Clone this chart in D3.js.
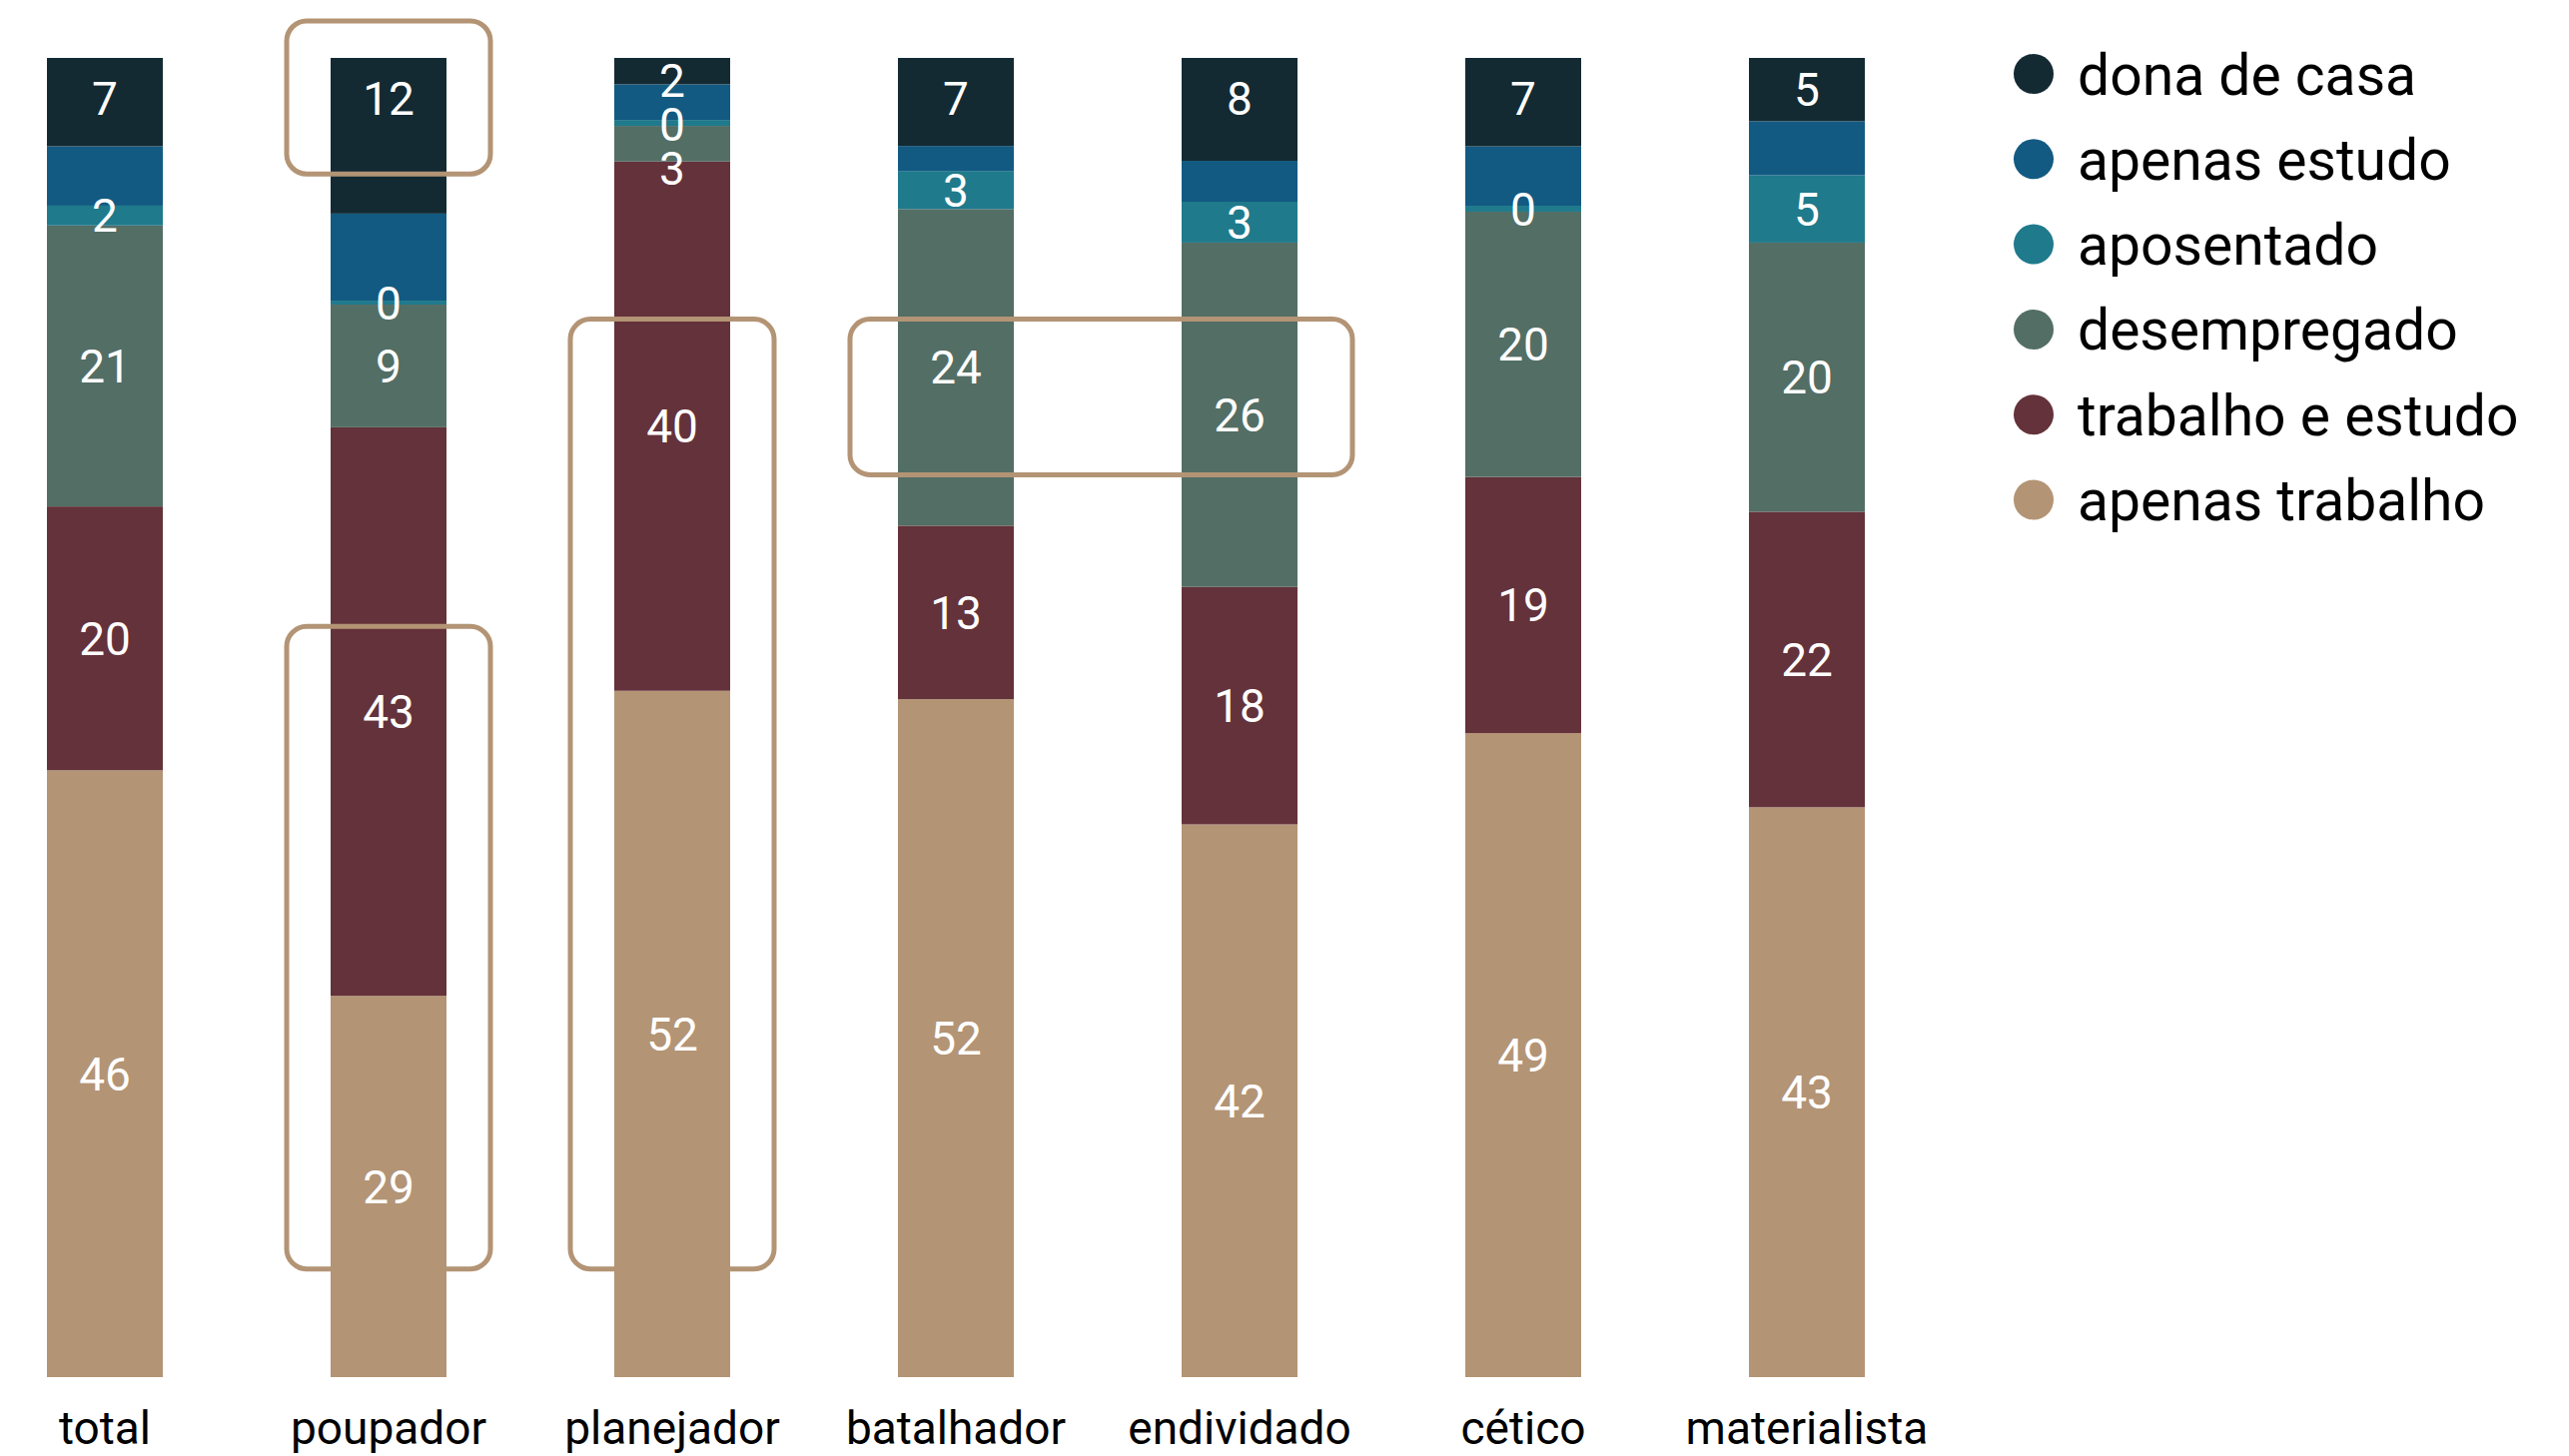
<!DOCTYPE html>
<html lang="pt">
<head>
<meta charset="utf-8">
<script src="https://cdn.jsdelivr.net/npm/d3@7/dist/d3.min.js"></script>
<style>
  html, body { margin: 0; padding: 0; background: #ffffff; }
  svg { display: block; }
  text { font-family: Roboto, "Noto Sans", sans-serif; }
</style>
</head>
<body>
<svg id="chart" width="2572" height="1458"></svg>
<script>
// Perfis financeiros e situação ocupacional (% de cada perfil)
const categories = ["total", "poupador", "planejador", "batalhador", "endividado", "cético", "materialista"];

// Séries, na ordem da legenda (de cima para baixo na pilha)
const seriesNames = ["dona de casa", "apenas estudo", "aposentado", "desempregado", "trabalho e estudo", "apenas trabalho"];
const seriesColors = ["#132a33", "#125a82", "#1f7a8c", "#536e65", "#64323a", "#b39475"];

const donaDeCasa      = [6.7, 11.8, 2.0, 6.7, 7.8, 6.7, 4.8];
const apenasEstudo    = [4.5, 6.6, 2.7, 1.9, 3.1, 4.5, 4.1];
const aposentado      = [1.5, 0.3, 0.45, 2.9, 3.1, 0.45, 5.1];
const desempregado    = [21.3, 9.3, 2.7, 24.1, 26.1, 20.1, 20.4];
const trabalhoEEstudo = [20.0, 43.1, 40.1, 13.2, 18.0, 19.4, 22.4];
const apenasTrabalho  = [46.0, 28.9, 52.0, 51.6, 41.9, 48.8, 43.2];

// "apenas estudo" não recebe rótulo de valor
const unlabeledSeries = ["apenas estudo"];

// Destaques: retângulos arredondados ao redor de trechos das barras
const highlights = [
  { from: "poupador",   to: "poupador",   top: 1.028, bottom: 0.912 },
  { from: "poupador",   to: "poupador",   top: 0.569, bottom: 0.082 },
  { from: "planejador", to: "planejador", top: 0.802, bottom: 0.082 },
  { from: "batalhador", to: "endividado", top: 0.802, bottom: 0.684, padLeft: 48, padRight: 55 }
];

const seriesValues = [donaDeCasa, apenasEstudo, aposentado, desempregado, trabalhoEEstudo, apenasTrabalho];
const rows = categories.map((c, i) => {
  const row = { category: c };
  seriesNames.forEach((s, j) => { row[s] = seriesValues[j][i]; });
  return row;
});

const svg = d3.select("#chart");

const x = d3.scaleBand()
  .domain(categories)
  .range([-37, 1951])
  .paddingInner(0.5915)
  .paddingOuter(0.5915 / 2);

const y = d3.scaleLinear().domain([0, 1]).range([1379, 58]);

const color = d3.scaleOrdinal().domain(seriesNames).range(seriesColors);

// Empilha de baixo (apenas trabalho) para cima (dona de casa)
const stack = d3.stack()
  .keys(seriesNames.slice().reverse())
  .offset(d3.stackOffsetExpand);
const layers = stack(rows);

const bars = svg.append("g").attr("class", "bars");
bars.selectAll("g.layer")
  .data(layers)
  .join("g")
  .attr("class", "layer")
  .attr("fill", d => color(d.key))
  .selectAll("rect")
  .data(d => d)
  .join("rect")
  .attr("x", d => x(d.data.category))
  .attr("width", x.bandwidth())
  .attr("y", d => y(d[1]))
  .attr("height", d => y(d[0]) - y(d[1]));

// Rótulos de valor: centro do segmento, com ajuste para não se sobreporem
const labelSize = 46;
const minGap = 44;
const labelGroup = svg.append("g").attr("class", "value-labels");
categories.forEach((cat, i) => {
  const items = [];
  seriesNames.forEach((name, j) => {
    if (unlabeledSeries.includes(name)) return;
    const layer = layers.find(l => l.key === name);
    const seg = layer[i];
    const yTop = y(seg[1]), yBot = y(seg[0]);
    let cy = (yTop + yBot) / 2;
    if (j === 0) cy = Math.min(cy, yTop + 40);
    items.push({ name, value: seriesValues[j][i], cy });
  });
  items.sort((a, b) => a.cy - b.cy);
  let prev = y(1) + 22;
  items.forEach((it, k) => {
    const minY = k === 0 ? prev : prev + minGap;
    if (it.cy < minY) it.cy = minY;
    prev = it.cy;
  });
  labelGroup.selectAll(null)
    .data(items)
    .join("text")
    .attr("x", x(cat) + x.bandwidth() / 2)
    .attr("y", d => d.cy)
    .attr("dy", "0.36em")
    .attr("text-anchor", "middle")
    .attr("fill", "#ffffff")
    .attr("font-size", labelSize)
    .text(d => d3.format(".0f")(Math.round(d.value)));
});

// Eixo das categorias (sem linha nem marcas)
const xAxis = svg.append("g")
  .attr("class", "x-axis")
  .attr("transform", `translate(0, ${y(0)})`)
  .call(d3.axisBottom(x).tickSize(0).tickPadding(67));
xAxis.select(".domain").remove();
xAxis.selectAll("text")
  .attr("font-size", 46)
  .attr("fill", "#000000")
  .attr("dy", 0)
  .style("font-family", "Roboto, 'Noto Sans', sans-serif");

// Destaques
svg.append("g")
  .attr("class", "highlights")
  .selectAll("rect")
  .data(highlights)
  .join("rect")
  .attr("x", d => x(d.from) - (d.padLeft ?? 44))
  .attr("width", d => x(d.to) + x.bandwidth() + (d.padRight ?? 44) - (x(d.from) - (d.padLeft ?? 44)))
  .attr("y", d => y(d.top))
  .attr("height", d => y(d.bottom) - y(d.top))
  .attr("rx", 20)
  .attr("ry", 20)
  .attr("fill", "none")
  .attr("stroke", "#b39475")
  .attr("stroke-width", 5);

// Legenda
const legend = svg.append("g")
  .attr("class", "legend")
  .attr("transform", "translate(2036, 74)");
const legendItems = legend.selectAll("g")
  .data(seriesNames)
  .join("g")
  .attr("transform", (d, i) => `translate(0, ${i * 85.3})`);
legendItems.append("circle")
  .attr("r", 20)
  .attr("fill", d => color(d));
legendItems.append("text")
  .attr("x", 44)
  .attr("dy", "0.36em")
  .attr("font-size", 57)
  .attr("fill", "#000000")
  .text(d => d);
</script>
</body>
</html>
